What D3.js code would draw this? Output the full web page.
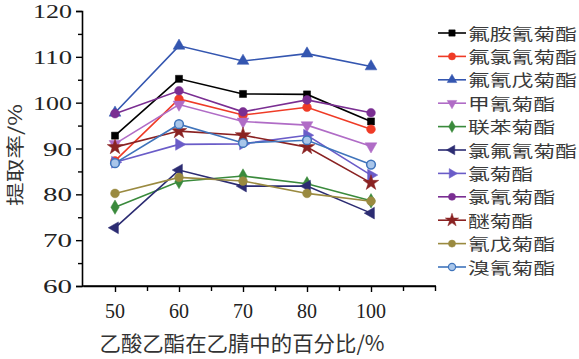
<!DOCTYPE html>
<html><head><meta charset="utf-8">
<script src="https://cdn.jsdelivr.net/npm/d3@7"></script>
<style>body{margin:0;background:#fff}svg{display:block}</style>
</head><body><svg id="c" width="579" height="359"></svg>
<script>
const categories = ["50","60","70","80","100"];
const seriesNames = ["氟胺氰菊酯","氟氯氰菊酯","氟氰戊菊酯","甲氰菊酯","联苯菊酯","氯氟氰菊酯","氯菊酯","氯氰菊酯","醚菊酯","氰戊菊酯","溴氰菊酯"];
const v_flaoqing   = [92.8,105.2,101.9,101.8,95.9];
const v_fulvqing   = [87.3,100.8,97.3,99.0,94.2];
const v_fuqingwu   = [97.8,112.4,109.1,110.7,107.9];
const v_jiaqing    = [91.0,99.6,95.9,95.1,90.5];
const v_lianben    = [77.2,82.8,84.0,82.3,78.6];
const v_lvfuqing   = [72.7,85.3,81.8,81.8,75.9];
const v_lvju       = [87.0,90.9,91.0,92.9,84.2];
const v_lvqing     = [97.6,102.6,98.0,100.6,97.8];
const v_miju       = [90.3,93.8,92.9,90.3,82.5];
const v_qingwu     = [80.2,83.7,82.9,80.2,78.5];
const v_xiuqing    = [86.8,95.3,91.2,91.8,86.5];
const yTicks = [60,70,80,90,100,110,120];
const xTitle = "乙酸乙酯在乙腈中的百分比/%";
const yTitle = "提取率/%";

const values = [v_flaoqing,v_fulvqing,v_fuqingwu,v_jiaqing,v_lianben,v_lvfuqing,v_lvju,v_lvqing,v_miju,v_qingwu,v_xiuqing];
const colors = ["#000000","#ef3b26","#3456b0","#b06cc6","#3a8a3c","#2c2c72","#6a5cc8","#7a2e92","#8a2222","#9a8a40","#3f74bb"];
const fills  = ["#000000","#ef3b26","#3456b0","#b06cc6","#3a8a3c","#2c2c72","#6a5cc8","#7a2e92","#8a2222","#9a8a40","#a9c6ea"];
const shapes = ["square","circle","tri","down","diamond","left","right","circle","star","circle","circle"];

const svg = d3.select("#c");
const x = d3.scaleLinear().domain([-0.5,5]).range([83,435]);
const y = d3.scaleLinear().domain([60,120]).range([286,11]);

function sym(shape, size){
  const t = {square:d3.symbolSquare,circle:d3.symbolCircle,tri:d3.symbolTriangle,down:d3.symbolTriangle,
    diamond:d3.symbolDiamond,left:d3.symbolTriangle,right:d3.symbolTriangle,star:d3.symbolStar}[shape];
  return d3.symbol().type(t).size(size)();
}
const rot = {down:180,left:-90,right:90};

// axes
const gy = svg.append("g").attr("transform","translate(82,0)");
gy.call(d3.axisLeft(y).tickValues(yTicks).tickSize(6).tickFormat(""));
gy.append("g").call(d3.axisLeft(y).tickValues(d3.range(65,120,10)).tickSize(4).tickFormat(""));
gy.selectAll("path.domain").attr("stroke","#000").attr("stroke-width",1.6);
gy.selectAll("line").attr("stroke","#000").attr("stroke-width",1.4);
gy.selectAll("g g path.domain").remove();

const gx = svg.append("g").attr("transform","translate(0,286)");
gx.call(d3.axisBottom(x).tickValues(d3.range(0,5)).tickSize(6).tickSizeOuter(0).tickFormat(""));
gx.append("g").call(d3.axisBottom(x).tickValues([0.5,1.5,2.5,3.5,4.5,5]).tickSize(5).tickFormat(""));
gx.selectAll("path.domain").attr("stroke","#000").attr("stroke-width",1.6);
gx.selectAll("g g path.domain").remove();
gx.selectAll("line").attr("stroke","#000").attr("stroke-width",1.4);
svg.append("line").attr("x1",82).attr("x2",436).attr("y1",286).attr("y2",286).attr("stroke","#000").attr("stroke-width",1.6);

// tick labels
svg.append("g").selectAll("text").data(yTicks).join("text")
  .attr("x",72).attr("y",d=>y(d)+7).attr("text-anchor","end")
  .attr("font-family","'Liberation Serif',serif").attr("font-size",19).attr("fill","#222")
  .attr("textLength",d=>String(d).length===3?39:29).attr("lengthAdjust","spacingAndGlyphs")
  .text(d=>d);
svg.append("g").selectAll("text").data(categories).join("text")
  .attr("x",(d,i)=>x(i)).attr("y",318).attr("text-anchor","middle")
  .attr("font-family","'Liberation Serif',serif").attr("font-size",20).attr("fill","#222")
  .text(d=>d);

// titles
svg.append("text").attr("x",242).attr("y",351).attr("text-anchor","middle")
  .attr("font-family","'Noto Sans CJK SC',sans-serif").attr("font-size",21).attr("fill","#333")
  .attr("textLength",285).attr("lengthAdjust","spacingAndGlyphs").text(xTitle);
svg.append("text").attr("transform","translate(22,155) rotate(-90)").attr("text-anchor","middle")
  .attr("font-family","'Noto Sans CJK SC',sans-serif").attr("font-size",18).attr("fill","#333")
  .attr("textLength",102).attr("lengthAdjust","spacingAndGlyphs").text(yTitle);

// series
const line = d3.line().x((d,i)=>x(i)).y(d=>y(d));
values.forEach((vals,k)=>{
  const g = svg.append("g");
  g.append("path").attr("d",line(vals)).attr("fill","none").attr("stroke",colors[k]).attr("stroke-width",1.6);
  g.selectAll("path.m").data(vals).join("path").attr("class","m")
    .attr("d",sym(shapes[k], shapes[k]==="star"?75:(shapes[k]==="square"?50:60)))
    .attr("transform",(d,i)=>`translate(${x(i)},${y(d)}) rotate(${rot[shapes[k]]||0})`)
    .attr("fill",fills[k]).attr("stroke",colors[k]).attr("stroke-width",shapes[k]==="circle"&&k===10?1.5:0.5);
});

// legend
const lg = svg.append("g");
seriesNames.forEach((name,k)=>{
  const cy = 33 + k*23.4;
  lg.append("line").attr("x1",438).attr("x2",466).attr("y1",cy).attr("y2",cy).attr("stroke",colors[k]).attr("stroke-width",1.6);
  lg.append("path").attr("d",sym(shapes[k], shapes[k]==="star"?55:40))
    .attr("transform",`translate(452,${cy}) rotate(${rot[shapes[k]]||0})`)
    .attr("fill",fills[k]).attr("stroke",colors[k]).attr("stroke-width",k===10?1.2:0.5);
  lg.append("text").attr("x",468).attr("y",cy+6.5)
    .attr("font-family","'Noto Sans CJK SC',sans-serif").attr("font-size",16).attr("fill","#3a3a3a")
    .attr("textLength",name.length*21.8).attr("lengthAdjust","spacingAndGlyphs").text(name);
});
</script></body></html>
